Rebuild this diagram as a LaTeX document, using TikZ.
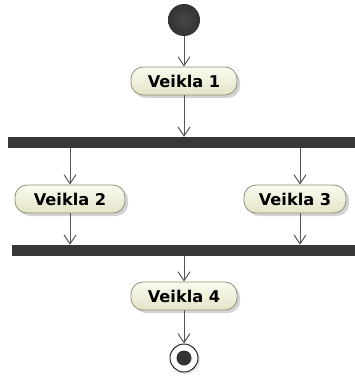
\documentclass[tikz,border=0pt]{standalone}
\usepackage{fontspec}
\setmainfont{DejaVu Sans}
\usetikzlibrary{arrows.meta,shadows}

\definecolor{flowline}{HTML}{555555}
\definecolor{barfill}{HTML}{383838}
\definecolor{actfilltop}{HTML}{FBFBF0}
\definecolor{actfillbot}{HTML}{E4E4C8}
\definecolor{actborder}{HTML}{909078}
\definecolor{shadowgray}{HTML}{C8C8C8}

\tikzset{
  x=1pt, y=-1pt,
  activity/.style={draw=actborder, line width=0.8pt, rounded corners=12pt,
    top color=actfilltop, bottom color=actfillbot,
    minimum width=106pt, minimum height=28pt, inner sep=0pt,
    font=\fontsize{16.2}{16}\selectfont\bfseries,
    drop shadow={shadow xshift=3pt, shadow yshift=-3pt, fill=shadowgray, opacity=0.8}},
  syncbar/.style={fill=barfill, draw=none, minimum height=11pt, inner sep=0pt},
  flow/.style={draw=flowline, line width=1pt,
    -{Straight Barb[length=9pt, width=12pt, line width=1pt]}},
}

\begin{document}
\begin{tikzpicture}
  \useasboundingbox (0,0) rectangle (355,377);

  % initial node
  \node[circle, minimum size=32pt, inner sep=0pt, draw=none,
        inner color=gray!55!black, outer color=black!80] (start) at (184,20) {};

  % actions
  \node[activity] (a1) at (184,81) {Veikla 1};
  \node[activity, minimum width=110pt] (a2) at (70,199) {Veikla 2};
  \node[activity, minimum width=102pt] (a3) at (295,199) {Veikla 3};
  \node[activity] (a4) at (184,296) {Veikla 4};

  % fork and join bars
  \node[syncbar, minimum width=347pt] (fork) at (181.5,142.5) {};
  \node[syncbar, minimum width=343pt] (join) at (183.5,250.5) {};

  % final node
  \node[circle, draw=black!85, line width=1pt, fill=white, minimum size=28pt,
        inner sep=0pt, drop shadow={shadow xshift=2pt, shadow yshift=-2pt, fill=shadowgray}] (final) at (184,358) {};
  \node[circle, fill=black!80, minimum size=15pt, inner sep=0pt] (finaldot) at (final.center) {};

  % flows between nodes
  \draw[flow] (start) -- (a1);
  \draw[flow] (a1.south) -- (a1.south |- fork.north);
  \draw[flow] (a2.north |- fork.south) -- (a2.north);
  \draw[flow] (300,0 |- fork.south) -- (300,0 |- a3.north);
  \draw[flow] (a2.south) -- (a2.south |- join.north);
  \draw[flow] (300,0 |- a3.south) -- (300,0 |- join.north);
  \draw[flow] (a4.north |- join.south) -- (a4.north);
  \draw[flow] (a4.south) -- (final.north);
\end{tikzpicture}
\end{document}
